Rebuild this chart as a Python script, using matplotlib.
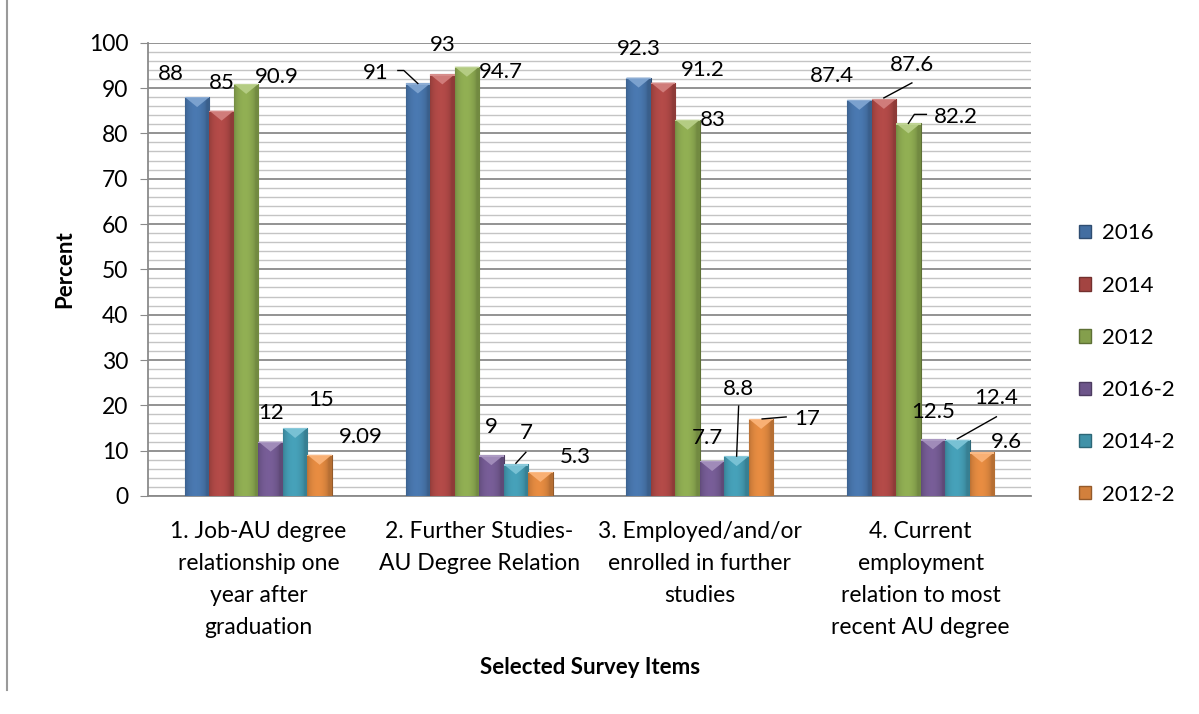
import numpy as np
import matplotlib
matplotlib.use("Agg")
import matplotlib.pyplot as plt
from matplotlib.patches import Polygon, Patch
from matplotlib.lines import Line2D
from matplotlib import transforms as mtransforms
from matplotlib.colors import to_rgb

plt.rcParams['font.family'] = ['Lato', 'DejaVu Sans']

# ---- data ----
categories = [
    "1. Job-AU degree\nrelationship one\nyear after\ngraduation",
    "2. Further Studies-\nAU Degree Relation",
    "3. Employed/and/or\nenrolled in further\nstudies",
    "4. Current\nemployment\nrelation to most\nrecent AU degree",
]
series_names = ["2016", "2014", "2012", "2016-2", "2014-2", "2012-2"]
v2016 = [88, 91, 92.3, 87.4]
v2014 = [85, 93, 91.2, 87.6]
v2012 = [90.9, 94.7, 83, 82.2]
v2016_2 = [12, 9, 7.7, 12.5]
v2014_2 = [15, 7, 8.8, 12.4]
v2012_2 = [9.09, 5.3, 17, 9.6]
label_text = [
    ["88", "91", "92.3", "87.4"],
    ["85", "93", "91.2", "87.6"],
    ["90.9", "94.7", "83", "82.2"],
    ["12", "9", "7.7", "12.5"],
    ["15", "7", "8.8", "12.4"],
    ["9.09", "5.3", "17", "9.6"],
]
series_values = [v2016, v2014, v2012, v2016_2, v2014_2, v2012_2]
colors = ["#4F81BD", "#C0504D", "#9BBB59", "#8064A2", "#4BACC6", "#F79646"]

# label placement, in pixels from the top centre of each bar
label_offsets = [
    [(-26, 23), (-42, 10), (0, 29), (-27, 24)],
    [(0, 28), (0, 29), (40, 13), (28, 34)],
    [(31, 7), (34, -5), (25, 0), (48, 6)],
    [(0, 29), (0, 28), (-5, 23), (0, 27)],
    [(26, 28), (10, 31), (2, 67), (39, 42)],
    [(41, 18), (35, 15), (46, 0), (25, 10)],
]
# leader lines (series, category) -> polyline in pixels from the bar top
leaders = {
    (0, 1): [(-20, 13), (-14, 13), (0, 0)],
    (4, 1): [(0, 1), (10, 12)],
    (4, 2): [(2, 50), (0, 0)],
    (5, 2): [(1, 0), (25, 2)],
    (1, 3): [(28, 16), (0, 1)],
    (2, 3): [(18, 9), (6, 9), (0, 0)],
    (4, 3): [(39, 23), (0, 1)],
}

FS = 16

fig = plt.figure(figsize=(11.99, 7.14), dpi=100)
ax = fig.add_axes([148 / 1199, 1 - 496 / 714, (1031 - 148) / 1199, (496 - 42.7) / 714])

n_series = len(series_names)
x = np.arange(len(categories))
bar_w = 0.111
ax.set_xlim(-0.5, len(categories) - 0.5)
ax.set_ylim(0, 100)


def shade(c, f):
    r, g, b = to_rgb(c)
    if f >= 1:
        return tuple(min(1, ch + (1 - ch) * (f - 1)) for ch in (r, g, b))
    return tuple(ch * f for ch in (r, g, b))


profile_t = np.linspace(0, 1, 64)
profile = 0.74 + 0.2 * np.sin(np.pi * np.clip(profile_t * 1.15, 0, 1)) ** 0.6

for i, (vals, col) in enumerate(zip(series_values, colors)):
    xs = x + (i - (n_series - 1) / 2) * bar_w
    bars = ax.bar(xs, vals, width=bar_w, color=shade(col, 0.85),
                  edgecolor=shade(col, 0.6), linewidth=0.8, zorder=3)
    grad = np.array([[shade(col, f) for f in profile]])
    for b, xc, v in zip(bars, xs, vals):
        x0, x1 = xc - bar_w / 2, xc + bar_w / 2
        im = ax.imshow(grad, extent=(x0, x1, 0, v), aspect='auto',
                       interpolation='bilinear', zorder=3.5)
        im.set_clip_path(b)
        tri = Polygon([(x0, v), (x1, v), (xc, v - 2.2)], closed=True,
                      facecolor=shade(col, 1.25), edgecolor='none', zorder=4)
        ax.add_patch(tri)
        ax.add_patch(Polygon([(x0, v), (x1, v), (x1, v - 0.3), (x0, v - 0.3)],
                             facecolor=shade(col, 1.35), edgecolor='none', zorder=4.1))

# value labels and leader lines
for i, vals in enumerate(series_values):
    xs = x + (i - (n_series - 1) / 2) * bar_w
    for j, (xc, v) in enumerate(zip(xs, vals)):
        dx, dy = label_offsets[i][j]
        ax.annotate(label_text[i][j], xy=(xc, v), xytext=(dx, dy),
                    textcoords='offset pixels', ha='center', va='center',
                    fontsize=FS, color='black', zorder=6)
        if (i, j) in leaders:
            pts = np.array(leaders[(i, j)], dtype=float)
            tr = mtransforms.IdentityTransform() + mtransforms.ScaledTranslation(xc, v, ax.transData)
            ax.add_line(Line2D(pts[:, 0], pts[:, 1], transform=tr, color='black',
                               linewidth=1.0, zorder=6, clip_on=False))

# axes styling
ax.set_yticks(np.arange(0, 101, 10))
ax.set_yticks(np.arange(0, 101, 2), minor=True)
ax.grid(which='major', axis='y', color='#8a8a8a', linewidth=1.3, zorder=0)
ax.grid(which='minor', axis='y', color='#c4c4c4', linewidth=1.0, zorder=0)
ax.tick_params(axis='y', which='major', length=6, color='#8a8a8a', labelsize=16.5, pad=8)
ax.tick_params(axis='y', which='minor', length=0)
ax.set_xticks(x)
ax.set_xticklabels(categories, fontsize=16.5, linespacing=1.64, va='top')
ax.tick_params(axis='x', length=0, pad=18)
for side in ('top', 'right'):
    ax.spines[side].set_visible(False)
for side in ('left', 'bottom'):
    ax.spines[side].set_color('#8a8a8a')
    ax.spines[side].set_linewidth(1.3)

ax.set_ylabel("Percent", fontsize=FS, fontweight='bold', labelpad=10)
fig.text(590 / 1199, 1 - 668 / 714, "Selected Survey Items", fontsize=FS,
         fontweight='bold', ha='center', va='center')

handles = [Patch(facecolor=shade(c, 0.85), edgecolor=shade(c, 0.6)) for c in colors]
fig.legend(handles, series_names, loc='center left',
           bbox_to_anchor=(1059 / 1199, 1 - 364 / 714), frameon=False,
           fontsize=FS, handlelength=0.55, handleheight=0.55, handletextpad=0.5,
           labelspacing=1.45)

# chart frame edge
fig.add_artist(Line2D([7 / 1199, 7 / 1199], [1 - 690 / 714, 1.0],
                      transform=fig.transFigure, color='#9a9a9a', linewidth=1.5))

fig.savefig("out.png", dpi=100)
